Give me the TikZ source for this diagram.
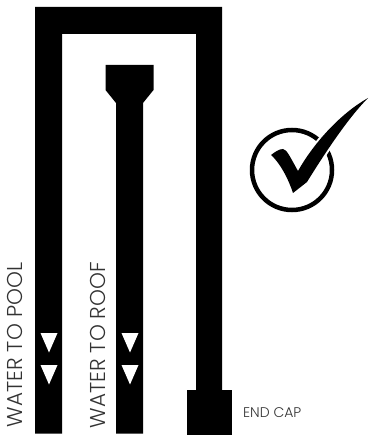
\documentclass[tikz,border=0pt]{standalone}
\usepackage{fontspec}
\setmainfont{Poppins Light}
\tikzset{pipe/.style={fill=black,draw=none},
arrowmark/.style={fill=white,draw=none},
lbl/.style={text=black!80,font=\fontsize{14}{15}\selectfont,inner sep=0pt},
vlbl/.style={text=black!80,font=\fontsize{21.5}{22}\selectfont,inner sep=0pt,rotate=90},
tick/.pic={
\path[pic actions] (271,155) .. controls (275,152) and (279,149) .. (283,149) .. controls (287,150) and (289,155) .. (298,171) .. controls (312,146) and (338,115) .. (368,98) .. controls (350,116) and (328,148) .. (307,182) -- (293,193) .. controls (288,178) and (280,163) .. (271,155) -- cycle;}}
\begin{document}
\begin{tikzpicture}[x=1pt,y=-1pt]
\useasboundingbox (0,0) rectangle (368,435);
\fill[pipe] (35,7) -- (222,7) -- (222,390) -- (196,390) -- (196,34) -- (62,34) -- (62,433.5) -- (35,433.5) -- cycle;
\fill[pipe] (187,390) rectangle (232,435);
\fill[pipe] (105.5,65) -- (153.5,65) -- (153.5,90) -- (143,103) -- (143,433.5) -- (116,433.5) -- (116,103) -- (105.5,90) -- cycle;
\foreach \x in {49,130}{
\foreach \y in {333,365}{
\fill[arrowmark] (\x-8.5,\y) -- (\x+8.5,\y) -- (\x,\y+19.5) -- cycle;}}
\node[vlbl] (pool) at (15,345) {WATER TO POOL};
\node[vlbl] (roof) at (98,345) {WATER TO ROOF};
\node[lbl,anchor=west] (cap) at (243,413) {END CAP};
\draw[line width=4.5pt] (292,170) circle (40);
\pic[draw=white,fill=white,line width=4pt] {tick};
\pic[fill=black] {tick};
\end{tikzpicture}
\end{document}
